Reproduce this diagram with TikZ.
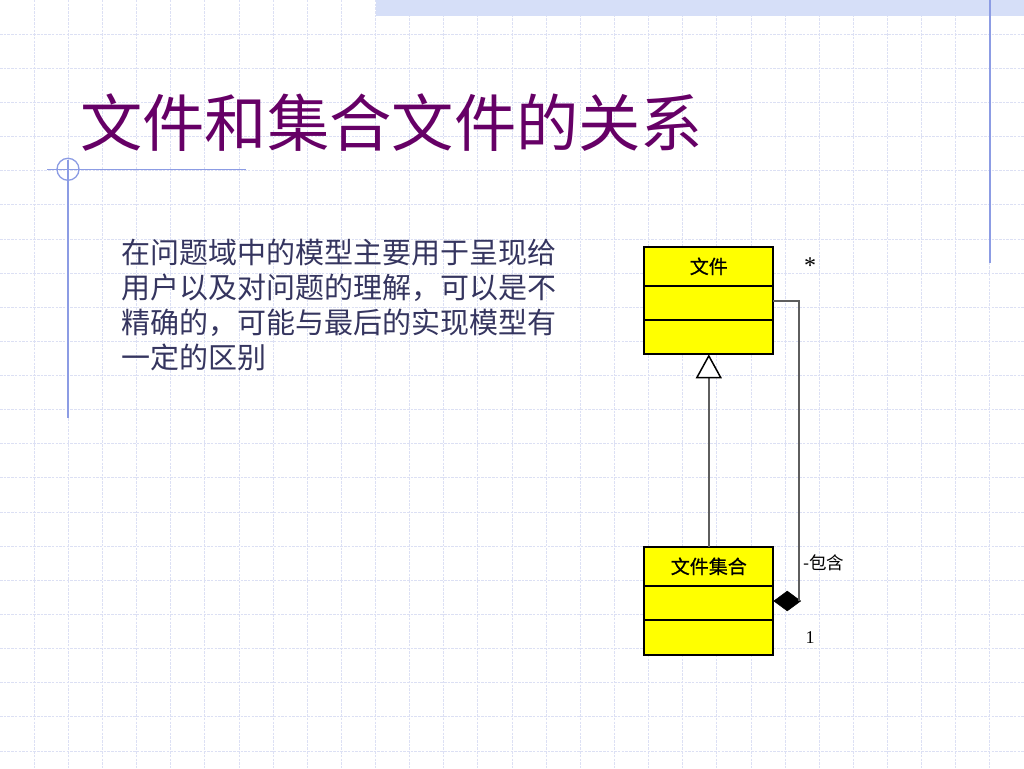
\documentclass[tikz,border=0pt]{standalone}
\usepackage{fontspec}
\newfontfamily\cjk{Noto Sans CJK SC}
\newfontfamily\cjkb[FakeBold=0.7]{Noto Sans CJK SC}
\newfontfamily\lser{Liberation Serif}
\usetikzlibrary{arrows.meta,shapes.geometric,calc}
\definecolor{gridc}{HTML}{DCE0F4}
\definecolor{bandc}{HTML}{D6DFF8}
\definecolor{decoc}{HTML}{8C9CE4}
\definecolor{titlec}{HTML}{660066}
\definecolor{bodyc}{HTML}{35355F}
\definecolor{linec}{HTML}{5E5E5E}
\definecolor{boxc}{HTML}{FFFF00}
\tikzset{
  gridline/.style={gridc, line width=0.8pt, dash pattern=on 2.5pt off 1.2pt},
  deco/.style={decoc, line width=1.3pt},
  part/.style={draw=black, line width=2pt, fill=boxc, minimum width=129pt, inner sep=0pt, outer sep=0pt, anchor=north, font=\cjkb\fontsize{19}{19}\selectfont},
  conn/.style={linec, line width=1.7pt},
  lbl/.style={inner sep=0pt, font=\lser\fontsize{18}{18}\selectfont},
}
\begin{document}
\begin{tikzpicture}[x=1pt,y=-1pt]
\useasboundingbox (0,0) rectangle (1024,768);
\fill[white] (0,0) rectangle (1024,768);
% grid
\foreach \i in {1,...,29} \draw[gridline] (\i*34.133,0) -- (\i*34.133,768);
\foreach \j in {1,...,22} \draw[gridline] (0,\j*34.133) -- (1024,\j*34.133);
% top band and right line
\fill[bandc] (375.5,0) rectangle (1024,16);
\draw[decoc, line width=1.5pt] (990,0) -- (990,263);
% left decoration
\draw[deco] (47,169.3) -- (246,169.3);
\draw[deco] (68,160) -- (68,418);
\draw[deco] (68,169.3) circle (11);
% title
\node[anchor=base west, inner sep=0pt, text=titlec, font=\cjk\fontsize{62.3}{62.3}\selectfont] (title) at (80,146) {文件和集合文件的关系};
% body text
\node[anchor=base west, inner sep=0pt, text=bodyc, font=\cjk\fontsize{29}{35}\selectfont, align=left] (body) at (121,368) {在问题域中的模型主要用于呈现给\\用户以及对问题的理解，可以是不\\精确的，可能与最后的实现模型有\\一定的区别};
% class 文件
\node[part, minimum height=39.3pt] (fname) at (708.8,246.7) {文件};
\node[part, minimum height=34pt] (fattr) at (fname.south) {};
\node[part, minimum height=34.3pt] (fop) at (fattr.south) {};
% class 文件集合
\node[part, minimum height=39.3pt] (cname) at (708.8,546.7) {文件集合};
\node[part, minimum height=34pt] (cattr) at (cname.south) {};
\node[part, minimum height=35pt] (cop) at (cattr.south) {};
% generalization
\draw[conn, -{Triangle[length=24pt,width=26pt,color=black,fill=white,line width=1.5pt]}] (cname.north) -- (fop.south);
% composition
\node[diamond, fill=black, draw=black, line width=0.5pt, minimum width=27pt, minimum height=20pt, inner sep=0pt, anchor=west] (diam) at (773.5,601) {};
\coordinate (corner) at (799,301);
\draw[conn] (fattr.east |- corner) -- (corner) -- (corner |- diam.center);
% labels
\node[lbl, anchor=center, font=\lser\fontsize{24}{24}\selectfont] (star) at (810,266) {*};
\node[lbl, anchor=west, font=\cjk\fontsize{17.5}{17.5}\selectfont] (role) at (803,563) {-包含};
\node[lbl, anchor=center] (one) at (810,638) {1};
\end{tikzpicture}
\end{document}
